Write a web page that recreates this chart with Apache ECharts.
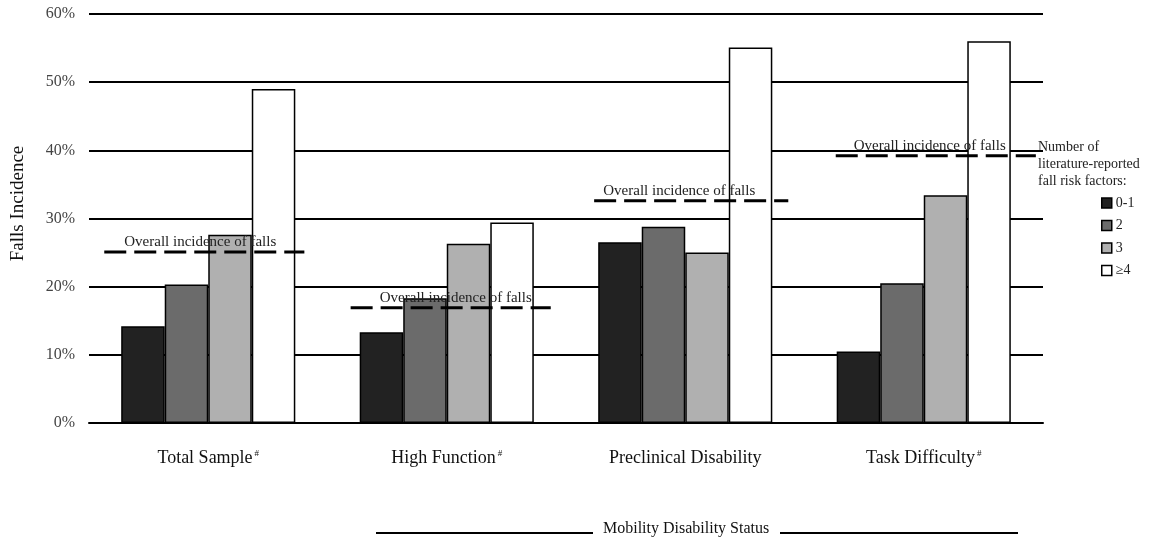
<!DOCTYPE html>
<html>
<head>
<meta charset="utf-8">
<script src="https://cdn.jsdelivr.net/npm/echarts@6/dist/echarts.min.js"></script>
<style>html,body{margin:0;padding:0;background:#fff;}#c{width:1172px;height:544px;}</style>
</head>
<body>
<div id="c"></div>
<script>
// ---- data ----
var categories = ['Total Sample', 'High Function', 'Preclinical Disability', 'Task Difficulty'];
var categoryMarks = ['#', '#', '', '#'];
var seriesNames = ['0-1', '2', '3', '\u22654'];
var s01 = [14.2, 13.3, 26.5, 10.5];
var s2 = [20.3, 18.3, 28.8, 20.5];
var s3 = [27.6, 26.3, 25.0, 33.4];
var s4 = [49.0, 29.4, 55.1, 56.0];
var overall = [25.1, 16.9, 32.6, 39.2];
var yTicks = [0, 10, 20, 30, 40, 50, 60];

// ---- layout / style ----
var FONT = '"Liberation Serif", "DejaVu Serif", serif';
var colors = ['#222222', '#6b6b6b', '#b0b0b0', '#ffffff'];
var dashFrom = [-0.436, -0.403, -0.382, -0.369];
var dashTo = [0.403, 0.436, 0.432, 0.47];
var textShift = [-8, 9, -6, 6];

var chart = echarts.init(document.getElementById('c'));
var allSeries = [s01, s2, s3, s4];
var series = allSeries.map(function (arr, k) {
  return {
    name: seriesNames[k],
    type: 'bar',
    data: arr,
    barGap: '0%',
    barCategoryGap: '27%',
    itemStyle: { color: colors[k], borderColor: '#000', borderWidth: 1.5 },
    emphasis: { disabled: true },
    z: 2
  };
});
series.push({
  type: 'custom',
  name: 'overall',
  data: overall.map(function (v, i) { return [i, v]; }),
  z: 5,
  renderItem: function (params, api) {
    var i = api.value(0);
    var p = api.coord([i, api.value(1)]);
    var bw = api.size([1, 0])[0];
    return {
      type: 'group',
      children: [
        { type: 'line', shape: { x1: p[0] + dashFrom[i] * bw, y1: p[1], x2: p[0] + dashTo[i] * bw, y2: p[1] },
          style: { stroke: '#000', lineWidth: 3, lineDash: [22, 8] } },
        { type: 'text', style: { text: 'Overall incidence of falls', x: p[0] + textShift[i], y: p[1] - 2,
          textAlign: 'center', textVerticalAlign: 'bottom', font: '15px ' + FONT, fill: '#222' } }
      ]
    };
  }
});

chart.setOption({
  animation: false,
  backgroundColor: '#fff',
  grid: { left: 89, right: 129, top: 14, bottom: 121 },
  legend: {
    data: seriesNames,
    orient: 'vertical',
    left: 1096,
    top: 191,
    itemWidth: 10,
    itemHeight: 10,
    itemGap: 8.5,
    icon: 'rect',
    itemStyle: { borderColor: '#000', borderWidth: 1.5 },
    textStyle: { fontFamily: FONT, fontSize: 14, color: '#222', padding: [0, 0, 0, -1] }
  },
  xAxis: {
    type: 'category',
    data: categories,
    axisLine: { lineStyle: { color: '#000', width: 2 } },
    axisTick: { length: 7, lineStyle: { color: '#000', width: 2 } },
    axisLabel: {
      margin: 26,
      formatter: function (v, i) {
        return categoryMarks[i] ? v + '{s|' + categoryMarks[i] + '}' : v;
      },
      fontFamily: FONT, fontSize: 18, color: '#111',
      rich: { s: { fontFamily: FONT, fontSize: 9, verticalAlign: 'top', color: '#111', padding: [0, 0, 0, 2] } }
    }
  },
  yAxis: {
    type: 'value',
    min: yTicks[0],
    max: yTicks[yTicks.length - 1],
    interval: yTicks[1] - yTicks[0],
    name: 'Falls Incidence',
    nameLocation: 'middle',
    nameGap: 61,
    nameTextStyle: { fontFamily: FONT, fontSize: 19, color: '#111', padding: [0, 0, 0, 30] },
    axisLine: { show: false },
    axisTick: { show: false },
    axisLabel: { formatter: '{value}%', fontFamily: FONT, fontSize: 16, color: '#444', margin: 14 },
    splitLine: { lineStyle: { color: '#000', width: 2 } }
  },
  graphic: [
    { type: 'text', left: 1038, top: 139,
      style: { text: 'Number of\nliterature-reported\nfall risk factors:', font: '14px ' + FONT, fill: '#222', lineHeight: 17 } },
    { type: 'text', left: 603, top: 521,
      style: { text: 'Mobility Disability Status', font: '16px ' + FONT, fill: '#111' } },
    { type: 'line', shape: { x1: 376, y1: 533, x2: 593, y2: 533 }, style: { stroke: '#000', lineWidth: 2 } },
    { type: 'line', shape: { x1: 780, y1: 533, x2: 1018, y2: 533 }, style: { stroke: '#000', lineWidth: 2 } }
  ],
  series: series
});
</script>
</body>
</html>
